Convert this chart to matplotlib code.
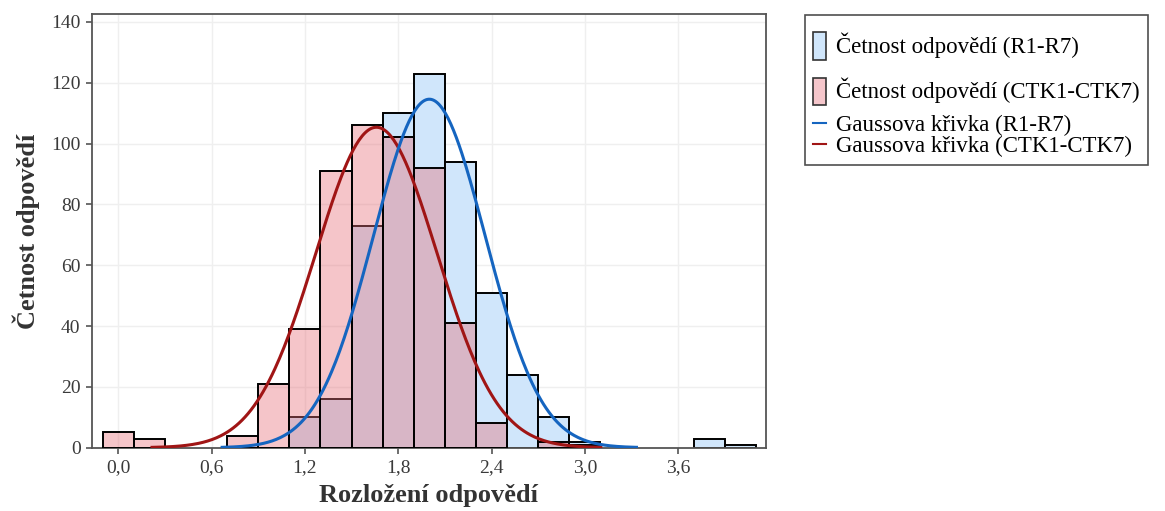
import numpy as np
import matplotlib.pyplot as plt
from matplotlib.legend_handler import HandlerPatch
from matplotlib.lines import Line2D
from matplotlib.patches import Patch, Rectangle
from matplotlib import ticker

plt.switch_backend("agg")
plt.rcParams["font.family"] = ["Liberation Serif", "DejaVu Serif"]

# histogram bins (centre of each 0.2 wide bin)
bin_centers = np.round(np.arange(0.0, 4.01, 0.2), 1)
bin_width = 0.2

counts_r = [0, 0, 0, 0, 0, 0, 10, 16, 73, 110, 123, 94, 51, 24, 10, 2, 0, 0, 0, 3, 1]
counts_ctk = [5, 3, 0, 0, 4, 21, 39, 91, 106, 102, 92, 41, 8, 0, 2, 1, 0, 0, 0, 0, 0]

# normal fit parameters (mean, sd)
fit_r = (2.00, 0.36)
fit_ctk = (1.66, 0.39)

labels = [
    "Četnost odpovědí (R1-R7)",
    "Četnost odpovědí (CTK1-CTK7)",
    "Gaussova křivka (R1-R7)",
    "Gaussova křivka (CTK1-CTK7)",
]

BLUE_FILL = "#d0e6fb"
RED_FILL = (0.90, 0.43, 0.47, 0.40)
BLUE_LINE = "#1565c0"
RED_LINE = "#a01515"
AXIS_GREY = "#555555"


def small_rect(legend, orig_handle, xdescent, ydescent, width, height, fontsize):
    h = 1.2 * fontsize
    return Rectangle((-xdescent, -ydescent + (height - h) / 2), width, h)


class TallPatchHandler(HandlerPatch):
    # taller row with a narrow swatch for the histogram entries
    def legend_artist(self, legend, orig_handle, fontsize, handlebox):
        handlebox.height = 2.0 * fontsize
        handlebox.ydescent = 0.7 * fontsize
        return super().legend_artist(legend, orig_handle, fontsize, handlebox)


def gauss_curve(mean, sd, n):
    x = np.linspace(mean - 3.7 * sd, mean + 3.7 * sd, 300)
    y = n * bin_width / (sd * np.sqrt(2 * np.pi)) * np.exp(-0.5 * ((x - mean) / sd) ** 2)
    return x, y


fig = plt.figure(figsize=(11.65, 5.11), dpi=100)
ax = fig.add_axes([0.0787, 0.1239, 0.5788, 0.8487])

cr = np.array(counts_r)
cc = np.array(counts_ctk)
m_r = cr > 0
m_c = cc > 0
ax.bar(bin_centers[m_r], cr[m_r], width=bin_width, color=BLUE_FILL,
       edgecolor="black", linewidth=1.4, zorder=2)
ax.bar(bin_centers[m_c], cc[m_c], width=bin_width, color=RED_FILL,
       edgecolor="black", linewidth=1.4, zorder=3)

xc, yc = gauss_curve(fit_ctk[0], fit_ctk[1], cc.sum())
ax.plot(xc, yc, color=RED_LINE, linewidth=2.2, zorder=4)
xr, yr = gauss_curve(fit_r[0], fit_r[1], cr.sum())
ax.plot(xr, yr, color=BLUE_LINE, linewidth=2.2, zorder=5)

ax.set_xlim(-0.171, 4.165)
ax.set_ylim(0, 142.6)
ax.xaxis.set_major_locator(ticker.FixedLocator(np.round(np.arange(0.0, 3.61, 0.6), 1)))
ax.xaxis.set_major_formatter(ticker.FuncFormatter(lambda v, p: "{:.1f}".format(v).replace(".", ",")))
ax.yaxis.set_major_locator(ticker.MultipleLocator(20))

ax.grid(True, color="#efefef", linewidth=1.0, zorder=0)
ax.set_axisbelow(True)
for s in ax.spines.values():
    s.set_color(AXIS_GREY)
    s.set_linewidth(1.3)
ax.tick_params(axis="both", colors=AXIS_GREY, length=4, width=1.2, labelsize=14,
               labelcolor="#3a3a3a", pad=4)

ax.set_xlabel("Rozložení odpovědí", fontsize=19, fontweight="bold", color="#333333", labelpad=6)
ax.set_ylabel("Četnost odpovědí", fontsize=19, fontweight="bold", color="#333333", labelpad=8)

handles = [
    Patch(facecolor=BLUE_FILL, edgecolor="#333333", linewidth=1.2),
    Patch(facecolor="#f5c6cb", edgecolor="#333333", linewidth=1.2),
    Line2D([], [], color=BLUE_LINE, linewidth=1.5),
    Line2D([], [], color=RED_LINE, linewidth=1.5),
]
leg = fig.legend(
    handles, labels,
    loc="upper left", bbox_to_anchor=(0.691, 0.971), borderaxespad=0,
    fontsize=16.5, frameon=True, fancybox=False, edgecolor="#222222",
    handlelength=0.55, handletextpad=0.45, labelspacing=0.0, borderpad=0.35,
    handler_map={Patch: TallPatchHandler(patch_func=small_rect)},
)
leg.get_frame().set_linewidth(1.2)

plt.savefig("out.png", dpi=100)
